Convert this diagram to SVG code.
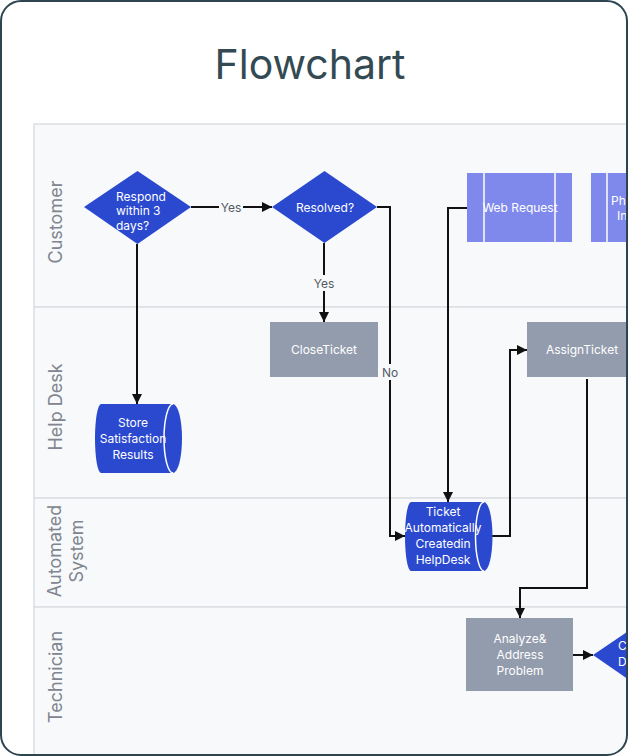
<svg xmlns="http://www.w3.org/2000/svg" width="628" height="756" viewBox="0 0 628 756">
<defs>
<style>
.lane{fill:#f8f9fb;stroke:#dcdee2;stroke-width:1.5}
.lbl{font-family:Inter,"Liberation Sans",sans-serif;font-size:18px;fill:#80858f;text-anchor:middle}
.t{font-family:Inter,"Liberation Sans",sans-serif;font-size:12px;fill:#ffffff;text-anchor:middle}
.ts{font-family:Inter,"Liberation Sans",sans-serif;font-size:12px;fill:#ffffff}
.blue{fill:#2a49cf}
.grey{fill:#939cad}
.web{fill:#7f89ec}
.inner{fill:none;stroke:#ffffff;stroke-width:1.5}
.edge{fill:none;stroke:#111111;stroke-width:2}
.el{font-family:Inter,"Liberation Sans",sans-serif;font-size:12px;fill:#555a63;text-anchor:middle}
.elbg{fill:#f8f9fb}
</style>
<marker id="arr" viewBox="0 0 10 10" refX="10" refY="5" markerWidth="10" markerHeight="10" markerUnits="userSpaceOnUse" orient="auto">
<path d="M0,0 L10,5 L0,10 Z" fill="#111111"/>
</marker>
<clipPath id="frameClip"><rect x="1" y="1" width="626" height="754" rx="20"/></clipPath>
</defs>
<rect x="1" y="1" width="626" height="754" rx="20" fill="#ffffff"/>
<text x="310" y="79" font-family="Inter,'Liberation Sans',sans-serif" font-size="41" fill="#344a53" text-anchor="middle">Flowchart</text>
<g clip-path="url(#frameClip)">
<g id="lanes">
<rect class="lane" x="34" y="124" width="620" height="183"/>
<rect class="lane" x="34" y="307" width="620" height="191"/>
<rect class="lane" x="34" y="498" width="620" height="109"/>
<rect class="lane" x="34" y="607" width="620" height="170"/>
<text class="lbl" transform="translate(62,222) rotate(-90)">Customer</text>
<text class="lbl" transform="translate(62,407) rotate(-90)">Help Desk</text>
<text class="lbl" transform="translate(61,551) rotate(-90)">Automated</text>
<text class="lbl" transform="translate(83,551) rotate(-90)">System</text>
<text class="lbl" transform="translate(62,677) rotate(-90)">Technician</text>
</g>
<g id="connectors">
<path class="edge" d="M191,207 L272,207" marker-end="url(#arr)"/>
<rect class="elbg" x="219" y="199" width="24" height="16"/>
<text class="el" x="231" y="212">Yes</text>
<path class="edge" d="M324,243 L324,322" marker-end="url(#arr)"/>
<rect class="elbg" x="312" y="275" width="24" height="16"/>
<text class="el" x="324" y="288">Yes</text>
<path class="edge" d="M377,207 L390,207 L390,536 L405,536" marker-end="url(#arr)"/>
<rect class="elbg" x="380" y="364" width="20" height="16"/>
<text class="el" x="390" y="377">No</text>
<path class="edge" d="M137,244 L137,404" marker-end="url(#arr)"/>
<path class="edge" d="M467,208 L448,208 L448,502" marker-end="url(#arr)"/>
<path class="edge" d="M492,536 L510,536 L510,350 L527,350" marker-end="url(#arr)"/>
<path class="edge" d="M587,379 L587,588 L520,588 L520,618" marker-end="url(#arr)"/>
<path class="edge" d="M573,655 L593,655" marker-end="url(#arr)"/>
</g>
<g id="respond">
<path class="blue" d="M84,207 L137.5,171 L191,207 L137.5,244 Z"/>
<text class="ts" x="116" y="201">Respond</text>
<text class="ts" x="116" y="215">within 3</text>
<text class="ts" x="116" y="230">days?</text>
</g>
<g id="resolved">
<path class="blue" d="M272,207 L324.5,171 L377,207 L324.5,243 Z"/>
<text class="t" x="325" y="212">Resolved?</text>
</g>
<g id="closeTicket">
<rect class="grey" x="270" y="322" width="108" height="55"/>
<text class="t" x="324" y="354">CloseTicket</text>
</g>
<g id="webRequest">
<rect class="web" x="467" y="173" width="105" height="69"/>
<line class="inner" x1="484" y1="173" x2="484" y2="242"/>
<line class="inner" x1="555" y1="173" x2="555" y2="242"/>
<text class="t" x="520" y="212">Web Request</text>
</g>
<g id="phone">
<rect class="web" x="591" y="173" width="105" height="69"/>
<line class="inner" x1="607" y1="173" x2="607" y2="242"/>
<text class="ts" x="611" y="205">Ph</text>
<text class="ts" x="617" y="220">In</text>
</g>
<g id="assignTicket">
<rect class="grey" x="527" y="322" width="108" height="55"/>
<text class="t" x="582" y="354">AssignTicket</text>
</g>
<g id="store">
<path class="blue" d="M101,404 L173,404 A9,34.5 0 0 1 173,473 L101,473 A6,34.5 0 0 1 101,404 Z"/>
<text class="t" x="133" y="427">Store</text>
<text class="t" x="133" y="443">Satisfaction</text>
<text class="t" x="133" y="459">Results</text>
<path class="inner" d="M173,404 A9,34.5 0 0 0 173,473"/>
</g>
<g id="ticket">
<path class="blue" d="M411,502 L484,502 A8.5,34.5 0 0 1 484,571 L411,571 A6,34.5 0 0 1 411,502 Z"/>
<text class="t" x="443" y="516">Ticket</text>
<text class="t" x="443" y="532">Automatically</text>
<text class="t" x="443" y="548">Createdin</text>
<text class="t" x="443" y="564">HelpDesk</text>
<path class="inner" d="M484,502 A8.5,34.5 0 0 0 484,571"/>
</g>
<g id="analyze">
<rect class="grey" x="466" y="618" width="107" height="73"/>
<text class="t" x="520" y="643">Analyze&amp;</text>
<text class="t" x="520" y="659">Address</text>
<text class="t" x="520" y="675">Problem</text>
</g>
<g id="decision">
<path class="blue" d="M593,655 L646.5,619 L700,655 L646.5,692 Z"/>
<text class="ts" x="618" y="650">C</text>
<text class="ts" x="618" y="666">D</text>
</g>
</g>
<rect x="1" y="1" width="626" height="754" rx="20" fill="none" stroke="#2e4550" stroke-width="2"/>
</svg>
